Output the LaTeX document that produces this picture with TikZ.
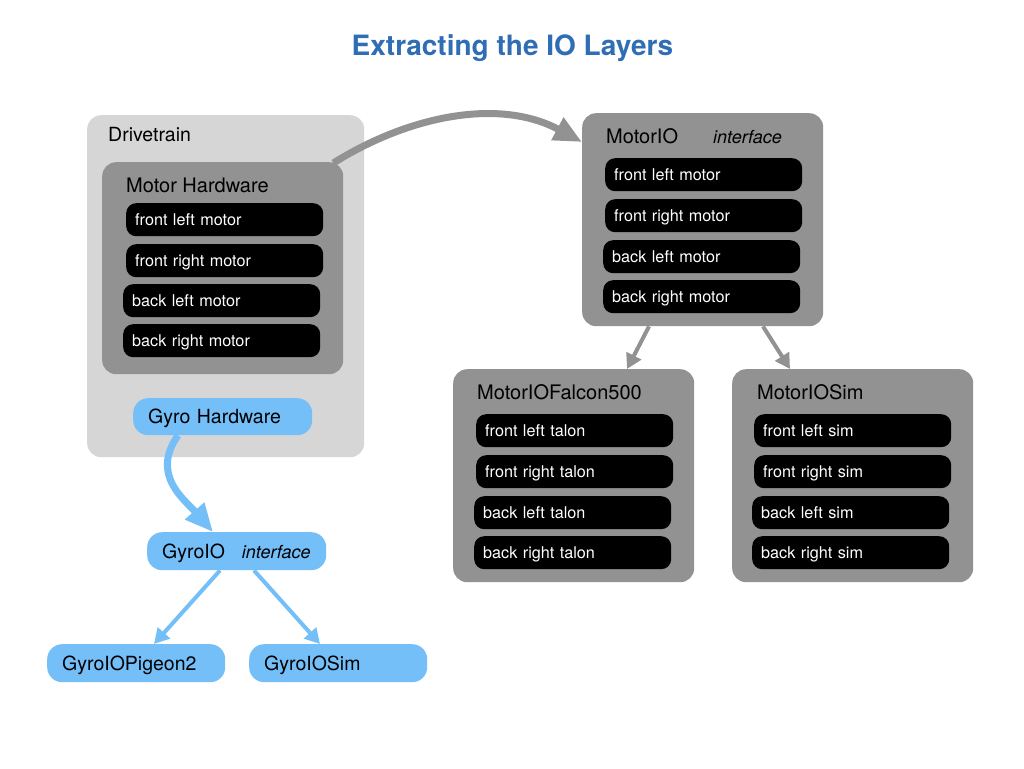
\documentclass[tikz,border=0pt]{standalone}
\usepackage{fontspec}
\setmainfont{TeX Gyre Heros}
\usetikzlibrary{arrows.meta}
\definecolor{lgray}{HTML}{D6D6D6}
\definecolor{dgray}{HTML}{929292}
\definecolor{lblue}{HTML}{75BFF9}
\definecolor{tblue}{HTML}{2F6DB5}
\begin{document}
\begin{tikzpicture}[x=1pt,y=-1pt,
  container/.style={fill=#1, draw=none, rounded corners=14pt, anchor=north west, inner sep=0pt},
  item/.style={fill=black, text=white, draw=none, rounded corners=10pt, anchor=north west,
    inner xsep=9pt, inner ysep=0pt, minimum height=33pt, text width=179pt, align=left,
    text height=11.5pt, text depth=0pt, font=\fontsize{16.2}{19}\selectfont},
  pill/.style={fill=lblue, draw=none, rounded corners=15pt, anchor=north west,
    inner xsep=15pt, inner ysep=0pt, text height=14pt, text depth=0pt, align=left,
    font=\fontsize{19.5}{23}\selectfont},
  ttl/.style={anchor=base west, inner sep=0pt, font=\fontsize{20}{24}\selectfont},
  ifc/.style={anchor=base west, inner sep=0pt, font=\fontsize{18}{21}\selectfont\itshape},
  garrow/.style={draw=dgray, line width=#1},
  barrow/.style={draw=lblue, line width=#1},
  bigtip/.style={-{Triangle[length=28pt,width=24pt]}},
  smalltip/.style={-{Triangle[length=15pt,width=16pt]}}
]
\path[use as bounding box, fill=white] (0,0) rectangle (1024,768);

% title
\node[anchor=base, inner sep=0pt, text=tblue, font=\fontsize{28}{33}\selectfont\bfseries] (title) at (512.5,56) {Extracting the IO Layers};

% Drivetrain
\node[container=lgray, minimum width=277pt, minimum height=342pt] (drive) at (87,115) {};
\node[ttl, font=\fontsize{19.5}{23}\selectfont] (drivelbl) at (108,141) {Drivetrain};
\node[container=dgray, minimum width=241pt, minimum height=212pt] (mhw) at (102,162) {};
\node[ttl] (mhwlbl) at (126,192) {Motor Hardware};
\node[item] (m1) at (126,203) {front left motor};
\node[item] (m2) at (126,244) {front right motor};
\node[item] (m3) at (123,284) {back left motor};
\node[item] (m4) at (123,324) {back right motor};
\node[pill, minimum width=179pt, minimum height=37pt, text width=149pt] (gyrohw) at (133,398) {Gyro Hardware};

% MotorIO
\node[container=dgray, minimum width=241pt, minimum height=213pt] (motorio) at (582,113) {};
\node[ttl] (motoriolbl) at (606,143) {MotorIO};
\node[ifc] (motorioifc) at (713,143) {interface};
\node[item] (i1) at (605,158) {front left motor};
\node[item] (i2) at (605,199) {front right motor};
\node[item] (i3) at (603,240) {back left motor};
\node[item] (i4) at (603,280) {back right motor};

% MotorIOFalcon500
\node[container=dgray, minimum width=241pt, minimum height=213pt] (falcon) at (453,369) {};
\node[ttl] (falconlbl) at (477,399) {MotorIOFalcon500};
\node[item] (f1) at (476,414) {front left talon};
\node[item] (f2) at (476,455) {front right talon};
\node[item] (f3) at (474,496) {back left talon};
\node[item] (f4) at (474,536) {back right talon};

% MotorIOSim
\node[container=dgray, minimum width=241pt, minimum height=213pt] (msim) at (732,369) {};
\node[ttl] (msimlbl) at (757,399) {MotorIOSim};
\node[item] (s1) at (754,414) {front left sim};
\node[item] (s2) at (754,455) {front right sim};
\node[item] (s3) at (752,496) {back left sim};
\node[item] (s4) at (752,536) {back right sim};

% Gyro IO
\node[pill, minimum width=179pt, minimum height=38pt, text width=149pt] (gyroio) at (147,532)
  {GyroIO\hskip 17pt{\fontsize{18}{21}\itshape interface}};
\node[pill, minimum width=178pt, minimum height=38pt, text width=148pt] (pigeon) at (47,644) {GyroIOPigeon2};
\node[pill, minimum width=178pt, minimum height=38pt, text width=148pt] (gsim) at (249,644) {GyroIOSim};

% arrows
\draw[garrow=7pt, bigtip] ([xshift=-10pt,yshift=-1pt]mhw.north east)
  .. controls (410,115) and (500,98) .. ([yshift=-29pt]motorio.north west);
\draw[garrow=4pt, smalltip] ([xshift=67pt]motorio.south west) -- ([xshift=174pt]falcon.north west);
\draw[garrow=4pt, smalltip] ([xshift=181pt]motorio.south west) -- ([xshift=58pt]msim.north west);

\draw[barrow=7pt, bigtip] ([xshift=45pt]gyrohw.south west)
  .. controls (150,475) and (185,500) .. ([xshift=66pt]gyroio.north west);
\draw[barrow=4pt, smalltip] ([xshift=73pt]gyroio.south west) -- ([xshift=107pt]pigeon.north west);
\draw[barrow=4pt, smalltip] ([xshift=107pt]gyroio.south west) -- ([xshift=71pt]gsim.north west);
\end{tikzpicture}
\end{document}
